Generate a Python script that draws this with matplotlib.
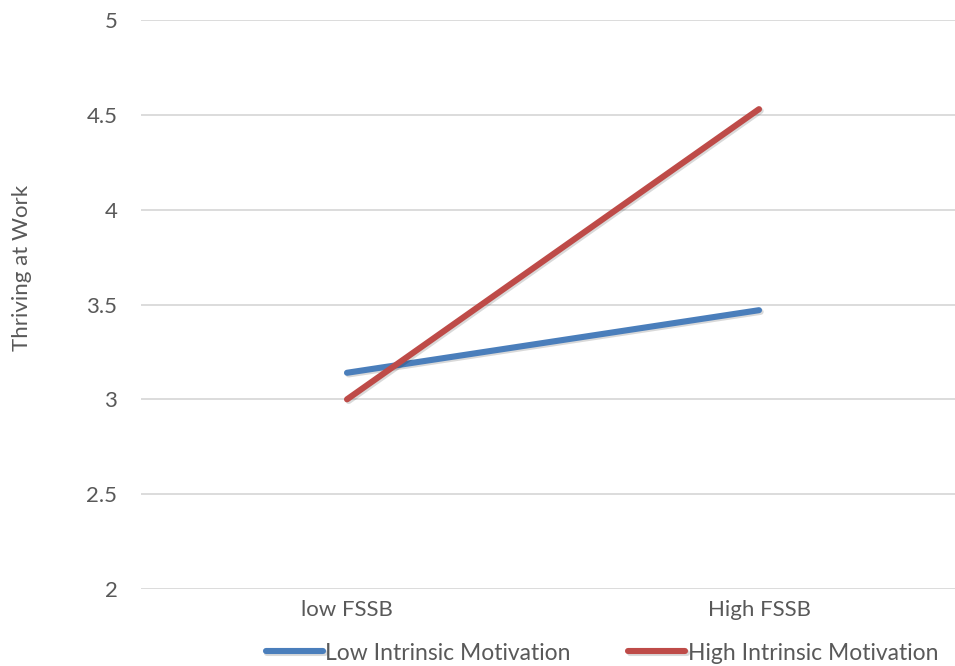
import matplotlib
matplotlib.use("Agg")
import matplotlib.pyplot as plt
import matplotlib.patheffects as pe

categories = ["low FSSB", "High FSSB"]
low_motivation = [3.14, 3.47]
high_motivation = [3.0, 4.53]
series_names = ["Low Intrinsic Motivation", "High Intrinsic Motivation"]
y_ticks = [2, 2.5, 3, 3.5, 4, 4.5, 5]
y_tick_labels = ["2", "2.5", "3", "3.5", "4", "4.5", "5"]

plt.rcParams['font.family'] = ['Lato', 'DejaVu Sans']
text_grey = "#595959"

fig = plt.figure(figsize=(9.55, 6.66), dpi=100)
ax = fig.add_axes([141 / 955, 1 - 589 / 666, 824 / 955, 569 / 666])

x = list(range(len(categories)))
shadow = [pe.SimpleLineShadow(offset=(1.2, -1.2), alpha=0.15, rho=0.5), pe.Normal()]
ax.plot(x, low_motivation, color="#4a7ebb", lw=4.4, solid_capstyle="round",
        label=series_names[0], path_effects=shadow, zorder=3)
ax.plot(x, high_motivation, color="#be4b48", lw=4.4, solid_capstyle="round",
        label=series_names[1], path_effects=shadow, zorder=3)

ax.set_xlim(-0.5, 1.5)
ax.set_ylim(2, 5)
ax.set_yticks(y_ticks)
ax.set_yticklabels(y_tick_labels)
ax.set_xticks(x)
ax.set_xticklabels(categories)
ax.grid(axis="y", color="#d9d9d9", lw=1.3)
ax.set_axisbelow(True)
for s in ax.spines.values():
    s.set_visible(False)
ax.tick_params(axis="both", length=0, labelsize=16, colors=text_grey)
ax.tick_params(axis="y", pad=17)
ax.tick_params(axis="x", pad=8)
ax.set_ylabel("Thriving at Work", fontsize=16, color=text_grey)
ax.yaxis.set_label_coords(-0.132, 0.565)

leg = fig.legend(loc="center", bbox_to_anchor=(602 / 955, 1 - 653 / 666), ncol=2,
                 frameon=False, fontsize=16.5, handlelength=2.5, handletextpad=0.1,
                 columnspacing=2.5, borderaxespad=0)
for h in leg.get_lines():
    h.set_linewidth(4.4)
    h.set_solid_capstyle("round")
for t in leg.get_texts():
    t.set_color(text_grey)

fig.savefig("out.png", dpi=100)
